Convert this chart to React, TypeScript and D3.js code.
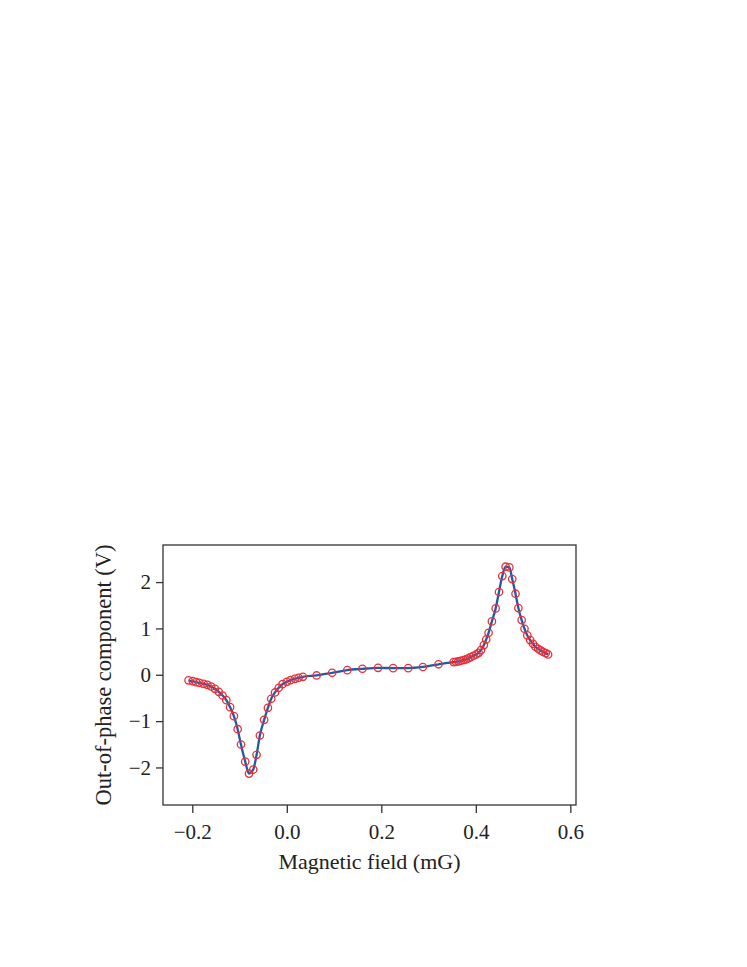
import React, { useRef, useEffect } from "react";
import * as d3 from "d3";

// Magnetic field (mG) and out-of-phase component (V)
const fieldValues = [
  -0.208, -0.199, -0.192, -0.185, -0.176, -0.168, -0.16, -0.152, -0.144, -0.136,
  -0.128, -0.12, -0.112, -0.104, -0.097, -0.088, -0.08, -0.071, -0.064, -0.057,
  -0.048, -0.04, -0.033, -0.025, -0.017, -0.009, 0.0, 0.008, 0.017, 0.025, 0.034,
  0.063, 0.096, 0.128, 0.16, 0.193, 0.225, 0.257, 0.288, 0.321,
  0.353, 0.358, 0.363, 0.368, 0.374, 0.379, 0.384, 0.389, 0.395, 0.401, 0.406,
  0.411, 0.417, 0.422, 0.427, 0.434, 0.442, 0.449, 0.456, 0.463, 0.471, 0.477,
  0.484, 0.49, 0.497, 0.503, 0.509, 0.515, 0.521, 0.526, 0.532, 0.537, 0.542,
  0.548, 0.553,
];
const signalValues = [
  -0.12, -0.137, -0.159, -0.173, -0.195, -0.217, -0.253, -0.303, -0.368, -0.447,
  -0.548, -0.699, -0.893, -1.174, -1.505, -1.873, -2.132, -2.045, -1.728, -1.311,
  -0.973, -0.713, -0.518, -0.382, -0.281, -0.202, -0.152, -0.116, -0.087, -0.065,
  -0.044,
  -0.015, 0.043, 0.1, 0.129, 0.15, 0.143, 0.143, 0.168, 0.226,
  0.273, 0.28, 0.287, 0.302, 0.316, 0.33, 0.352, 0.381, 0.41, 0.438, 0.474,
  0.532, 0.64, 0.762, 0.906, 1.151, 1.432, 1.785, 2.13, 2.332, 2.317, 2.065,
  1.749, 1.439, 1.18, 0.993, 0.849, 0.748, 0.669, 0.604, 0.561, 0.525, 0.496,
  0.467, 0.438,
];
const xTicks = [-0.2, 0.0, 0.2, 0.4, 0.6];
const yTicks = [-2, -1, 0, 1, 2];

const App = () => {
  const svgRef = useRef<SVGSVGElement>(null);
  const width = 747;
  const height = 967;

  useEffect(() => {
    const svg = d3.select(svgRef.current);
    svg.selectAll("*").remove();

    const margin = { top: 545, right: 171, bottom: 162, left: 163 };
    const w = width - margin.left - margin.right;
    const h = height - margin.top - margin.bottom;
    const font = "'Liberation Serif', 'Times New Roman', serif";
    const fmtMinus = (s: string) => s.replace("-", "\u2013");

    const g = svg.append("g").attr("transform", `translate(${margin.left},${margin.top})`);

    const x = d3.scaleLinear().domain([-0.262, 0.612]).range([0, w]);
    const y = d3.scaleLinear().domain([-2.81, 2.8]).range([h, 0]);

    const data = fieldValues.map((f, i) => ({ f, v: signalValues[i] }));

    // fitted curve
    const line = d3
      .line<{ f: number; v: number }>()
      .x((d) => x(d.f))
      .y((d) => y(d.v))
      .curve(d3.curveMonotoneX);

    g.append("path")
      .datum(data)
      .attr("fill", "none")
      .attr("stroke", "#1f5aa6")
      .attr("stroke-width", 2.3)
      .attr("d", line);

    // measured points
    g.selectAll(".pt")
      .data(data)
      .enter()
      .append("circle")
      .attr("cx", (d) => x(d.f))
      .attr("cy", (d) => y(d.v))
      .attr("r", 3.7)
      .attr("fill", "none")
      .attr("stroke", "#e8303a")
      .attr("stroke-width", 1.3);

    // frame
    g.append("rect")
      .attr("width", w)
      .attr("height", h)
      .attr("fill", "none")
      .attr("stroke", "#333")
      .attr("stroke-width", 1.3);

    const xAxis = d3
      .axisBottom(x)
      .tickValues(xTicks)
      .tickSize(8)
      .tickPadding(11)
      .tickFormat((d) => fmtMinus(d3.format(".1f")(d as number)));
    const yAxis = d3
      .axisLeft(y)
      .tickValues(yTicks)
      .tickSize(7)
      .tickPadding(5)
      .tickFormat((d) => fmtMinus(d3.format("d")(d as number)));

    const gx = g.append("g").attr("transform", `translate(0,${h})`).call(xAxis);
    const gy = g.append("g").call(yAxis);

    [gx, gy].forEach((ax) => {
      ax.select(".domain").remove();
      ax.selectAll("line").attr("stroke", "#333").attr("stroke-width", 1.3);
      ax.selectAll("text")
        .attr("fill", "#222")
        .style("font-family", font)
        .style("font-size", "21px");
    });

    g.append("text")
      .attr("x", w / 2)
      .attr("y", h + 64)
      .attr("text-anchor", "middle")
      .attr("fill", "#222")
      .style("font-family", font)
      .style("font-size", "22px")
      .text("Magnetic field (mG)");

    g.append("text")
      .attr("transform", `translate(-52,${h / 2}) rotate(-90)`)
      .attr("text-anchor", "middle")
      .attr("fill", "#222")
      .style("font-family", font)
      .style("font-size", "22.5px")
      .text("Out-of-phase component (V)");
  }, []);

  return (
    <svg
      ref={svgRef}
      width={width}
      height={height}
      style={{ position: "absolute", left: 0, top: 0, background: "#fff" }}
    ></svg>
  );
};

export default App;
